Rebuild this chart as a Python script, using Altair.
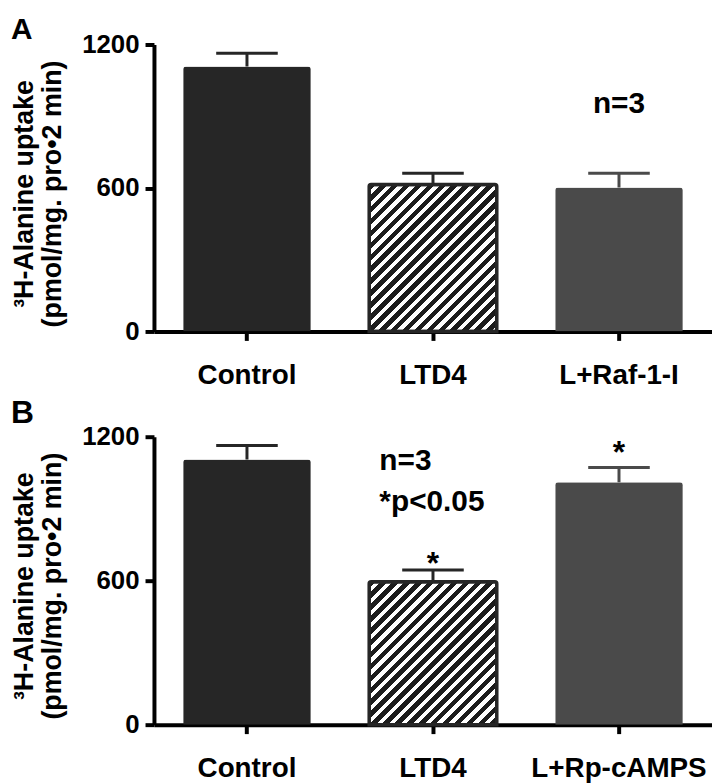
import math
import altair as alt
import pandas as pd

# ---------------- data ----------------
cats_a = ["Control", "LTD4", "L+Raf-1-I"]
vals_a = [1108, 615, 602]
errs_a = [1163, 662, 662]

cats_b = ["Control", "LTD4", "L+Rp-cAMPS"]
vals_b = [1105, 596, 1010]
errs_b = [1163, 645, 1072]
star_cats_b = ["LTD4", "L+Rp-cAMPS"]
star_pos_b = [703, 1163]

y_ticks = [0, 600, 1200]
y_title = ["\u00b3H-Alanine uptake", "(pmol/mg. pro\u20222 min)"]

note_a_cat = ["L+Raf-1-I"]
note_a_text = ["n=3"]
note_a_pos = [951]
note_b_cat = ["LTD4", "LTD4"]
note_b_text = ["n=3", "*p<0.05"]
note_b_pos = [1100, 927]

# ---------------- styling ----------------
FONT = "Liberation Sans"
DARK = "#262626"
GREY = "#4a4a4a"
W = 562
H_A = 289
H_B = 290
PAD_IN = 0.314
PAD_OUT = 0.157
bar_colors = {"Control": DARK, "LTD4": DARK}


def hatch(w, h, period=12.0, frac=0.55):
    s = (w + h) / (w * w + h * h)
    n = math.ceil((w + h) / period)
    stops = []
    for k in range(n):
        a = min(1.0, k * period / (w + h))
        b = min(1.0, (k + frac) * period / (w + h))
        c = min(1.0, (k + 1) * period / (w + h))
        stops += [
            alt.GradientStop(offset=a, color="#1c1c1c"),
            alt.GradientStop(offset=b, color="#1c1c1c"),
            alt.GradientStop(offset=b, color="#ffffff"),
            alt.GradientStop(offset=c, color="#ffffff"),
        ]
    return alt.LinearGradient(gradient="linear", stops=stops,
                              x1=0, y1=0, x2=w * s, y2=h * s)


def panel(cats, vals, errs, height, letter, letter_y, letter_size, notes, stars=None):
    df = pd.DataFrame({
        "cat": cats, "val": vals, "err": errs,
        "color": [bar_colors.get(c, GREY) for c in cats],
    })
    xaxis = alt.Axis(title=None, labelAngle=0, labelFont=FONT, labelFontSize=28,
                     labelFontWeight="bold", labelColor="black", labelPadding=21,
                     domainColor="black", domainWidth=4, tickColor="black",
                     tickWidth=4, tickSize=9, labelLimit=0)
    yaxis = alt.Axis(values=y_ticks, format="d", title=y_title, titleFont=FONT,
                     titleFontSize=27, titleFontWeight="bold", titleColor="black",
                     titleAngle=270, titleX=-122, titleY=150, titleAlign="center",
                     titleBaseline="alphabetic", titleLineHeight=28,
                     labelFont=FONT, labelFontSize=26, labelFontWeight="bold",
                     labelColor="black", labelPadding=6, domainColor="black",
                     domainWidth=4, tickColor="black", tickWidth=4, tickSize=9,
                     grid=False)
    xs = alt.Scale(paddingInner=PAD_IN, paddingOuter=PAD_OUT)
    ys = alt.Scale(domain=[0, 1200], nice=False, zero=True)

    def X():
        return alt.X("cat:N", sort=cats, scale=xs, axis=xaxis)

    def Y(field):
        return alt.Y(field, type="quantitative", scale=ys, axis=yaxis)

    base = alt.Chart(df)
    step = W / 3.0
    bw = step * (1 - PAD_IN)
    hval = df.loc[df.cat == "LTD4", "val"].iloc[0] / 1200.0 * height

    solid = base.transform_filter(alt.datum.cat != "LTD4").mark_bar(
        cornerRadiusTopLeft=3, cornerRadiusTopRight=3
    ).encode(x=X(), y=Y("val"), color=alt.Color("color:N", scale=None))

    hatched = base.transform_filter(alt.datum.cat == "LTD4").mark_bar(
        fill=hatch(bw, hval), stroke=DARK, strokeWidth=3.5,
        cornerRadiusTopLeft=2, cornerRadiusTopRight=2
    ).encode(x=X(), y=Y("val"))

    stem = base.mark_rule(strokeWidth=3).encode(
        x=X(), y=Y("val"), y2="err:Q", color=alt.Color("color:N", scale=None))
    cap = base.mark_tick(size=62, thickness=3, opacity=1).encode(
        x=X(), y=Y("err"), color=alt.Color("color:N", scale=None))

    lab = alt.Chart(pd.DataFrame({"t": [letter]})).mark_text(
        align="left", baseline="alphabetic", font=FONT, fontSize=letter_size,
        fontWeight="bold", color="black"
    ).encode(x=alt.value(-144), y=alt.value(letter_y), text="t:N")

    layers = [solid, hatched, stem, cap, lab]

    ndf = pd.DataFrame({"cat": notes[0], "t": notes[1], "pos": notes[2]})
    layers.append(alt.Chart(ndf).mark_text(
        align=notes[3], baseline="middle", dx=notes[4], font=FONT, fontSize=30,
        fontWeight="bold", color="black"
    ).encode(x=X(), y=Y("pos"), text="t:N"))

    if stars is not None:
        sdf = pd.DataFrame({"cat": stars[0], "pos": stars[1], "t": ["*"] * len(stars[0])})
        layers.append(alt.Chart(sdf).mark_text(
            align="center", baseline="middle", dy=8, font=FONT, fontSize=32,
            fontWeight="bold", color="black"
        ).encode(x=X(), y=Y("pos"), text="t:N"))

    return alt.layer(*layers).properties(width=W, height=height)


panel_a = panel(cats_a, vals_a, errs_a, H_A, "A", -6, 30,
                (note_a_cat, note_a_text, note_a_pos, "center", 0))
panel_b = panel(cats_b, vals_b, errs_b, H_B, "B", -14, 32,
                (note_b_cat, note_b_text, note_b_pos, "left", -54),
                stars=(star_cats_b, star_pos_b))

chart = alt.vconcat(panel_a, panel_b, spacing=106, bounds="flush").resolve_scale(
    x="independent", y="independent"
).properties(
    padding={"left": 3, "top": 4, "right": 0, "bottom": 0},
).configure_view(stroke=None)

chart.save("out.html", embed_options={"renderer": "svg", "actions": False})
